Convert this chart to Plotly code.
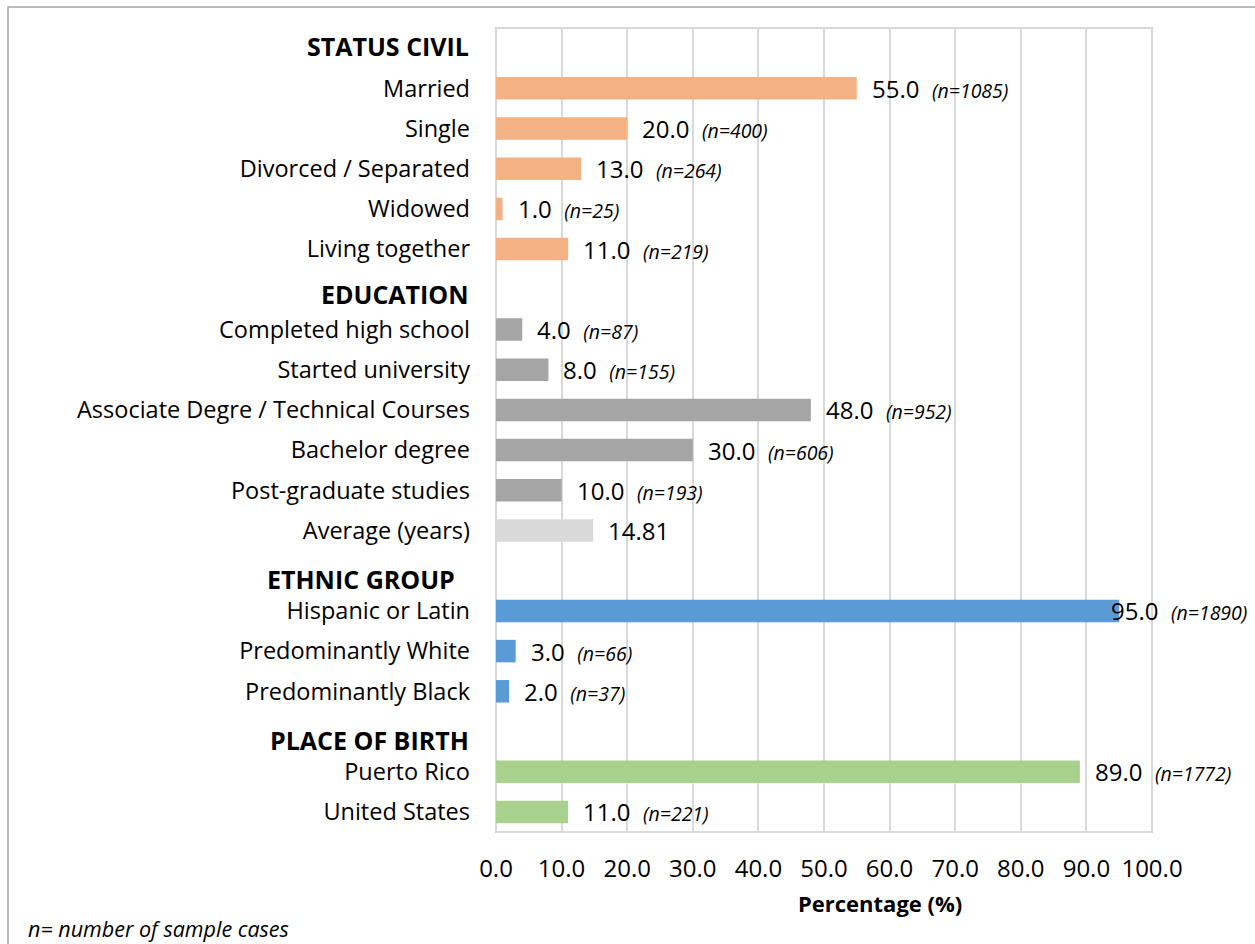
import plotly.graph_objects as go

# ---------------- data ----------------
headers = ["STATUS CIVIL", "EDUCATION", "ETHNIC GROUP", "PLACE OF BIRTH"]

civil_labels = ["Married", "Single", "Divorced / Separated", "Widowed", "Living together"]
civil_values = [55.0, 20.0, 13.0, 1.0, 11.0]
civil_n = [1085, 400, 264, 25, 219]

edu_labels = ["Completed high school", "Started university", "Associate Degre / Technical Courses",
              "Bachelor degree", "Post-graduate studies"]
edu_values = [4.0, 8.0, 48.0, 30.0, 10.0]
edu_n = [87, 155, 952, 606, 193]

avg_label = "Average (years)"
avg_value = 14.81

ethnic_labels = ["Hispanic or Latin", "Predominantly White", "Predominantly Black"]
ethnic_values = [95.0, 3.0, 2.0]
ethnic_n = [1890, 66, 37]

birth_labels = ["Puerto Rico", "United States"]
birth_values = [89.0, 11.0]
birth_n = [1772, 221]

x_ticks = [0, 10, 20, 30, 40, 50, 60, 70, 80, 90, 100]

# ---------------- styles ----------------
FONT = "Open Sans"
C_CIVIL = "#F4B183"
C_EDU = "#A5A5A5"
C_AVG = "#D9D9D9"
C_ETH = "#5B9BD5"
C_BIRTH = "#A9D18E"
GRID = "#D9D9D9"

# build rows: (label, value, n, color, is_header)
rows = []
rows.append((headers[0], None, None, None, True))
for l, v, n in zip(civil_labels, civil_values, civil_n):
    rows.append((l, v, n, C_CIVIL, False))
rows.append((headers[1], None, None, None, True))
for l, v, n in zip(edu_labels, edu_values, edu_n):
    rows.append((l, v, n, C_EDU, False))
rows.append((avg_label, avg_value, None, C_AVG, False))
rows.append((headers[2], None, None, None, True))
for l, v, n in zip(ethnic_labels, ethnic_values, ethnic_n):
    rows.append((l, v, n, C_ETH, False))
rows.append((headers[3], None, None, None, True))
for l, v, n in zip(birth_labels, birth_values, birth_n):
    rows.append((l, v, n, C_BIRTH, False))

bar_y = [i for i, r in enumerate(rows) if not r[4]]
bar_x = [r[1] for r in rows if not r[4]]
bar_c = [r[3] for r in rows if not r[4]]

fig = go.Figure()
fig.add_trace(go.Bar(
    x=bar_x, y=bar_y, orientation="h",
    marker=dict(color=bar_c, line=dict(width=0)),
    width=0.56, hoverinfo="skip", showlegend=False,
))

annotations = []
header_shift = {headers[0]: 2, headers[1]: -5, headers[2]: -8, headers[3]: -8}
header_xshift = {headers[0]: -25, headers[1]: -25, headers[2]: -39, headers[3]: -25}
for i, (label, v, n, c, is_h) in enumerate(rows):
    if is_h:
        annotations.append(dict(
            x=0, xref="paper", y=i, yref="y", text="<b>%s</b>" % label,
            xanchor="right", yanchor="middle", showarrow=False,
            xshift=header_xshift[label], yshift=header_shift[label],
            font=dict(family=FONT, size=25, color="#000000"),
        ))
        continue
    if n is None:
        txt = "%.2f" % v
    else:
        txt = ("%.1f&nbsp;&nbsp;<i><span style='font-size:19.5px'>(n=%d)</span></i>" % (v, n))
    xs = 13 if v < 92 else -10
    annotations.append(dict(
        x=v, xref="x", y=i, yref="y", text=txt,
        xanchor="left", yanchor="middle", showarrow=False, xshift=xs,
        font=dict(family=FONT, size=24, color="#000000"),
    ))

# axis title and footnote
annotations.append(dict(
    x=(880 - 496) / (1152 - 496), xref="paper", y=0, yref="paper",
    text="<b>Percentage (%)</b>", showarrow=False,
    xanchor="center", yanchor="middle", yshift=-71,
    font=dict(family=FONT, size=22, color="#000000"),
))
annotations.append(dict(
    x=0, xref="paper", y=0, yref="paper",
    text="<i>n= number of sample cases</i>", showarrow=False,
    xanchor="left", yanchor="middle", xshift=-470, yshift=-96,
    font=dict(family=FONT, size=21.5, color="#000000"),
))

tickvals = [i for i, r in enumerate(rows) if not r[4]]
ticktext = [r[0] for r in rows if not r[4]]

fig.update_layout(
    width=1255, height=944,
    margin=dict(l=496, r=103, t=28, b=112, pad=0),
    paper_bgcolor="#FFFFFF", plot_bgcolor="#FFFFFF",
    font=dict(family=FONT, size=23, color="#000000"),
    annotations=annotations,
    shapes=[
        dict(type="rect", xref="paper", yref="paper",
             x0=-488 / 656, x1=1.2, y0=-0.3, y1=(944 - 7 - 112) / 804,
             line=dict(color="#A6A6A6", width=1.5), fillcolor="rgba(0,0,0,0)", layer="below"),
        dict(type="rect", xref="paper", yref="paper", x0=0, x1=1, y0=0, y1=1,
             line=dict(color=GRID, width=2), fillcolor="rgba(0,0,0,0)", layer="below"),
    ],
)
fig.update_xaxes(
    range=[0, 100], tickvals=x_ticks, ticktext=["%.1f" % t for t in x_ticks],
    showgrid=True, gridcolor=GRID, gridwidth=2, zeroline=False,
    showline=False, ticks="", ticklabelstandoff=20,
    tickfont=dict(family=FONT, size=24, color="#000000"), fixedrange=True,
)
fig.update_yaxes(
    range=[len(rows) - 0.5, -0.5], tickvals=tickvals, ticktext=ticktext,
    showgrid=False, zeroline=False, showline=False, ticks="",
    ticklabelstandoff=25,
    tickfont=dict(family=FONT, size=23.5, color="#000000"), fixedrange=True,
)

fig.write_html(
    "out.html",
    config={"displayModeBar": False},
    post_script="document.body.style.margin='0';document.body.style.overflow='hidden';",
)
